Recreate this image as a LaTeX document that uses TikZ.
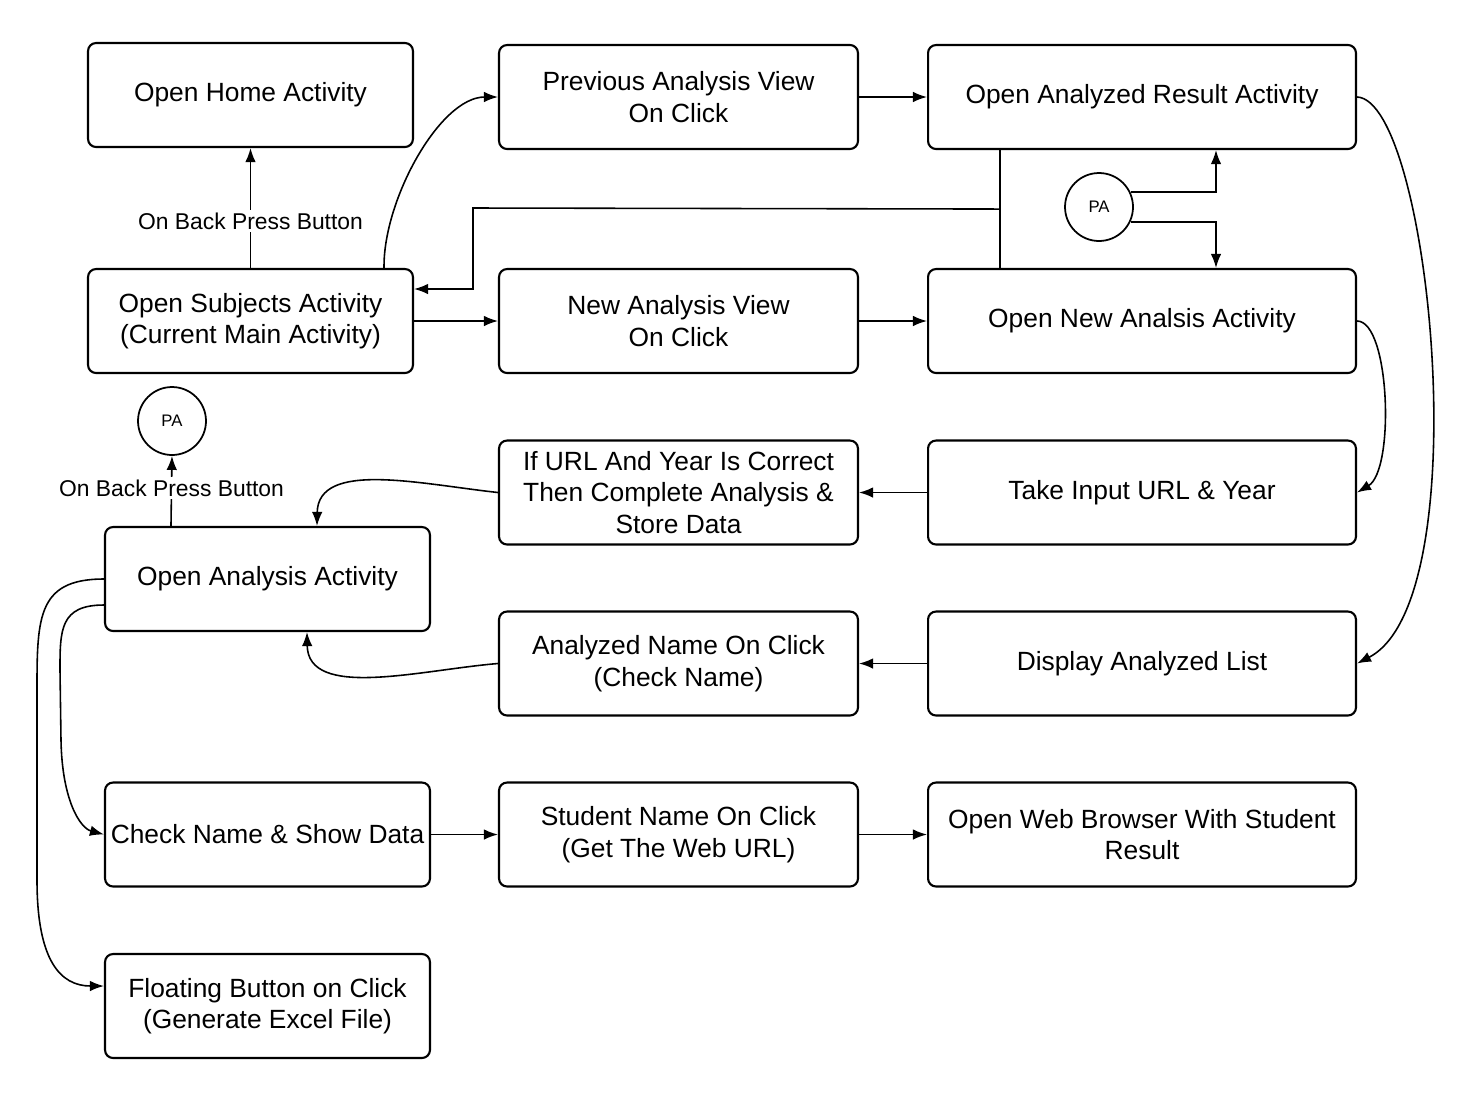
\documentclass[tikz,border=0pt]{standalone}
\usepackage{fontspec}
\setmainfont{Liberation Sans}
\usetikzlibrary{arrows.meta,calc}
\begin{document}
\begin{tikzpicture}[x=0.02cm,y=-0.02cm,
  box/.style={draw,line width=1.2pt,rounded corners=0.16cm,align=center,
    inner sep=0pt,minimum height=2.08cm,font=\fontsize{15}{18}\selectfont},
  wA/.style={minimum width=6.5cm},
  wB/.style={minimum width=7.18cm},
  wC/.style={minimum width=8.56cm},
  conn/.style={line width=0.9pt,-{Latex[length=8pt,width=6pt]}},
  plain/.style={line width=0.9pt},
  pa/.style={circle,draw,line width=1pt,minimum size=1.36cm,inner sep=0pt,
    font=\fontsize{9.5}{11}\selectfont},
  lbl/.style={fill=white,inner sep=1.5pt,font=\fontsize{13}{15}\selectfont}]
\useasboundingbox (0,0) rectangle (1469,1093);

% activity boxes
\node[box,wA] (home)  at (250.5,95)   {Open Home Activity};
\node[box,wB] (prev)  at (678.5,97)   {Previous Analysis View\\On Click};
\node[box,wC] (res)   at (1142,97)    {Open Analyzed Result Activity};
\node[box,wA] (subj)  at (250.5,321)  {Open Subjects Activity\\(Current Main Activity)};
\node[box,wB] (newv)  at (678.5,321)  {New Analysis View\\On Click};
\node[box,wC] (newa)  at (1142,321)   {Open New Analsis Activity};
\node[box,wB] (url)   at (678.5,492.5){If URL And Year Is Correct\\Then Complete Analysis \&\\Store Data};
\node[box,wC] (take)  at (1142,492.5) {Take Input URL \& Year};
\node[box,wA] (ana)   at (267.5,579)  {Open Analysis Activity};
\node[box,wB] (aname) at (678.5,663.5){Analyzed Name On Click\\(Check Name)};
\node[box,wC] (disp)  at (1142,663.5) {Display Analyzed List};
\node[box,wA] (chk)   at (267.5,834.5){Check Name \& Show Data};
\node[box,wB] (stud)  at (678.5,834.5){Student Name On Click\\(Get The Web URL)};
\node[box,wC] (web)   at (1142,834.5) {Open Web Browser With Student\\Result};
\node[box,wA] (flt)   at (267.5,1006) {Floating Button on Click\\(Generate Excel File)};

% connector circles
\node[pa] (pa1) at (1099,207) {PA};
\node[pa] (pa2) at (172,421) {PA};

% top rows
\draw[conn] (subj.north) -- node[lbl,pos=0.39] {On Back Press Button} (home.south);
\draw[conn] ($(subj.north east)+(-30,0)$) .. controls (383,200) and (440,97) .. (prev.west);
\draw[conn] (prev) -- (res);
\draw[conn] (subj) -- (newv);
\draw[conn] (newv) -- (newa);

% result / new analysis link and return to subjects
\draw[plain] ($(res.south west)+(73,0)$) -- ($(newa.north west)+(73,0)$);
\coordinate (jn) at ($(res.south west)+(73,59)$);
\draw[conn] (jn) -- (473,208) |- ($(subj.east)+(0,-32)$);

% PA branches
\draw[conn] (pa1.25) -| ($(res.south west)+(289,0)$);
\draw[conn] (pa1.-25) -| ($(newa.north west)+(289,0)$);

% right-hand curves
\draw[conn] (res.east) .. controls (1430,100) and (1480,600) .. (disp.east);
\draw[conn] (newa.east) .. controls (1390,321) and (1395,470) .. (take.east);

% middle rows
\draw[conn] (take) -- (url);
\draw[conn] (disp) -- (aname);
\draw[conn] (url.west) .. controls (420,484) and (318,460) .. ($(ana.north west)+(213,0)$);
\draw[conn] (aname.west) .. controls (420,670) and (308,700) .. ($(ana.south west)+(203,0)$);
\draw[conn] ($(ana.north west)+(67,0)$) -- node[lbl,pos=0.535] {On Back Press Button} (pa2.south);

% left-hand curves
\draw[conn] (ana.west) .. controls (35,579) and (37,620) .. (37,700) -- (37,880)
  .. controls (37,960) and (60,986) .. ($(flt.west)+(0,-20)$);
\draw[conn] ($(ana.west)+(0,26)$) .. controls (60,605) and (60,630) .. (60,670) -- (61,740)
  .. controls (62,800) and (80,828) .. (chk.west);

% bottom row
\draw[conn] (chk) -- (stud);
\draw[conn] (stud) -- (web);
\end{tikzpicture}
\end{document}
